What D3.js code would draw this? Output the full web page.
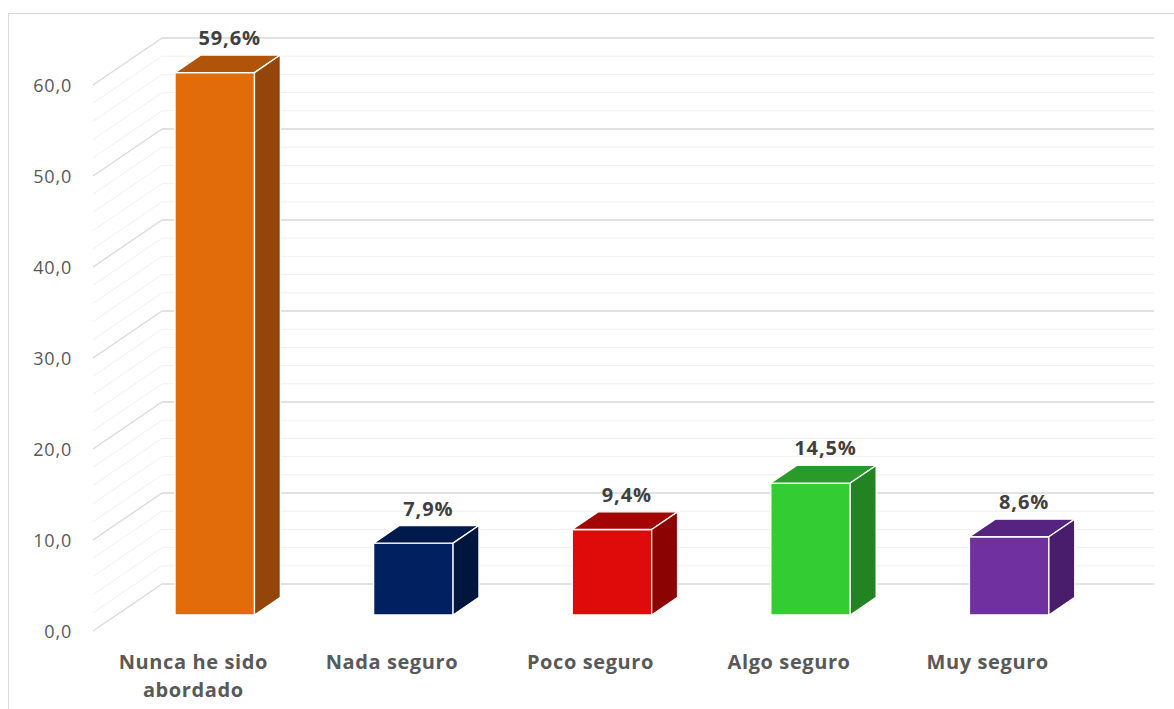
<!DOCTYPE html>
<html>
<head>
<meta charset="utf-8">
<script src="https://cdn.jsdelivr.net/npm/d3@7"></script>
<style>
  body { margin: 0; padding: 0; background: #fff; }
  svg { display: block; }
  .tick-label { font-family: 'Open Sans', sans-serif; font-size: 18px; letter-spacing: 0.8px; fill: #595959; }
  .cat-label { font-family: 'Open Sans', sans-serif; font-size: 20px; letter-spacing: 0.6px; font-weight: bold; fill: #595959; }
  .val-label { font-family: 'Open Sans', sans-serif; font-size: 20px; letter-spacing: 0.9px; font-weight: bold; fill: #404040; }
</style>
</head>
<body>
<script>
// data
var categories = ["Nunca he sido abordado", "Nada seguro", "Poco seguro", "Algo seguro", "Muy seguro"];
var values = [59.6, 7.9, 9.4, 14.5, 8.6];
var tickValues = [0, 10, 20, 30, 40, 50, 60];
var frontColors = ["#E36C0A", "#002060", "#DF0B0B", "#33CC33", "#7030A0"];
var topColors   = ["#B0540A", "#001A4E", "#A30505", "#2A9A2A", "#552480"];
var sideColors  = ["#94450A", "#00163F", "#8B0303", "#218421", "#4A1D6C"];

var W = 1174, H = 709;
var depthX = 69, depthY = -47;   // full depth of the floor
var barD0 = 0.34, barD1 = 0.715; // bar front / back depth

var es = d3.formatLocale({decimal: ",", thousands: ".", grouping: [3], currency: ["", "€"]});
var fmt1 = es.format(".1f");

var svg = d3.select("body").append("svg").attr("width", W).attr("height", H);

// outer border
svg.append("rect").attr("x", 8.5).attr("y", 13.5).attr("width", W).attr("height", H)
  .attr("fill", "none").attr("stroke", "#d9d9d9").attr("stroke-width", 1);

var x = d3.scaleBand().domain(categories).range([92, 1085]).paddingInner(0.6).paddingOuter(0.3);
var y = d3.scaleLinear().domain([0, 60]).range([631, 85]);

function P(px, py, d) { return [px + d * depthX, py + d * depthY]; }

// gridlines every 2 units, major every 10
var grid = d3.range(0, 61, 2);
var g = svg.append("g");
grid.forEach(function (v) {
  var major = v % 10 === 0;
  var col = major ? "#d9d9d9" : "#f0f0f0";
  var a = P(93, y(v), 0), b = P(93, y(v), 1);
  g.append("line").attr("x1", a[0]).attr("y1", a[1]).attr("x2", b[0]).attr("y2", b[1])
    .attr("stroke", col).attr("stroke-width", major ? 1.3 : 1);
  g.append("line").attr("x1", b[0]).attr("y1", b[1]).attr("x2", 1154).attr("y2", b[1])
    .attr("stroke", col).attr("stroke-width", major ? 1.3 : 1);
});

// y tick labels
svg.selectAll(".tick-label").data(tickValues).enter().append("text")
  .attr("class", "tick-label")
  .attr("x", 72).attr("y", function (d) { return y(d) + 7; })
  .attr("text-anchor", "end")
  .text(function (d) { return fmt1(d); });

// bars
var bars = svg.selectAll(".bar").data(values).enter().append("g").attr("class", "bar");
bars.each(function (v, i) {
  var gg = d3.select(this);
  var x0 = x(categories[i]), x1 = x0 + x.bandwidth();
  var yb = y(0), yt = y(v);
  var f = [P(x0, yt, barD0), P(x1, yt, barD0), P(x1, yb, barD0), P(x0, yb, barD0)];
  var t = [P(x0, yt, barD0), P(x0, yt, barD1), P(x1, yt, barD1), P(x1, yt, barD0)];
  var s = [P(x1, yt, barD0), P(x1, yt, barD1), P(x1, yb, barD1), P(x1, yb, barD0)];
  var line = function (pts) { return "M" + pts.map(function (p) { return p.join(","); }).join("L") + "Z"; };
  gg.append("path").attr("d", line(f)).attr("fill", frontColors[i]).attr("stroke", "#fff").attr("stroke-width", 1.3);
  gg.append("path").attr("d", line(t)).attr("fill", topColors[i]).attr("stroke", "#fff").attr("stroke-width", 1.3);
  gg.append("path").attr("d", line(s)).attr("fill", sideColors[i]).attr("stroke", "#fff").attr("stroke-width", 1.3);
  var c = P((x0 + x1) / 2, yt, (barD0 + barD1) / 2);
  gg.append("text").attr("class", "val-label")
    .attr("x", c[0] + 2).attr("y", yt + barD1 * depthY - 10)
    .attr("text-anchor", "middle")
    .text(fmt1(v) + "%");
});

// category labels (wrapped)
svg.selectAll(".cat-label").data(categories).enter().append("text")
  .attr("class", "cat-label")
  .attr("text-anchor", "middle")
  .each(function (d) {
    var t = d3.select(this);
    var cx = x(d) + x.bandwidth() / 2 + 2;
    var lines = d === "Nunca he sido abordado" ? ["Nunca he sido", "abordado"] : [d];
    lines.forEach(function (l, k) {
      t.append("tspan").attr("x", cx).attr("y", 669 + k * 28).text(l);
    });
  });
</script>
</body>
</html>
